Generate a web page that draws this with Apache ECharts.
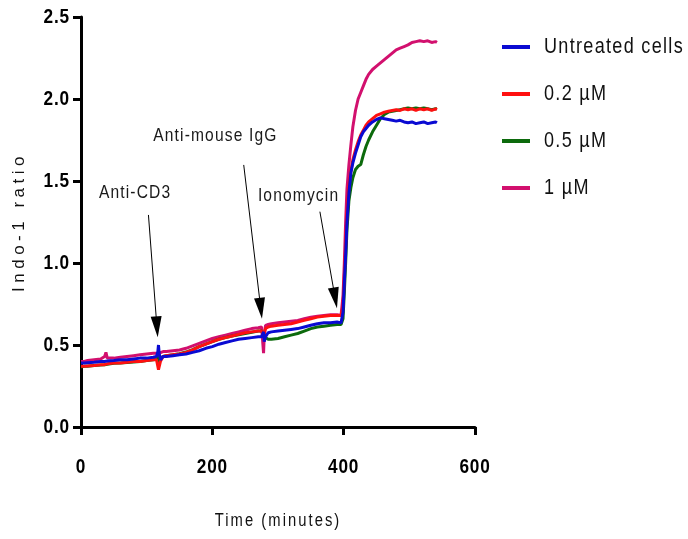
<!DOCTYPE html>
<html>
<head>
<meta charset="utf-8">
<script src="https://cdn.jsdelivr.net/npm/echarts@6/dist/echarts.min.js"></script>
<style>html,body{margin:0;padding:0;background:#fff}#c{width:688px;height:539px}</style>
</head>
<body>
<div id="c"></div>
<script>
// ---- data ----
const time = [
  0,5,10,20,30,36,38,40,50,60,
  70,80,90,100,110,115,117,118,119,121,
  125,130,140,150,160,170,180,190,200,210,
  220,230,240,250,260,270,275,277,278,279,
  281,285,290,300,310,320,330,340,350,360,
  370,380,390,396,398,399,401,403,405,408,
  411,414,418,422,426,430,434,438,444,450,
  456,462,468,474,480,486,492,498,504,510,
  516,522,528,534,540,542
];
const untreated = [
  0.39,0.39,0.392,0.395,0.40,0.40,0.40,0.402,0.405,0.41,
  0.41,0.415,0.42,0.42,0.425,0.43,0.46,0.50,0.45,0.41,
  0.43,0.43,0.435,0.44,0.445,0.455,0.465,0.48,0.49,0.505,
  0.515,0.525,0.535,0.54,0.545,0.55,0.55,0.56,0.58,0.52,
  0.55,0.575,0.58,0.585,0.59,0.595,0.60,0.61,0.62,0.63,
  0.635,0.635,0.64,0.635,0.64,0.70,0.88,1.05,1.25,1.43,
  1.55,1.61,1.67,1.72,1.77,1.80,1.82,1.84,1.86,1.875,
  1.885,1.88,1.875,1.87,1.865,1.87,1.86,1.855,1.86,1.85,
  1.855,1.86,1.85,1.855,1.86,1.855
];
const dose02 = [
  0.37,0.37,0.372,0.375,0.38,0.38,0.38,0.385,0.39,0.39,
  0.395,0.40,0.40,0.405,0.41,0.41,0.40,0.35,0.34,0.40,
  0.43,0.435,0.44,0.445,0.455,0.47,0.49,0.505,0.52,0.535,
  0.545,0.555,0.565,0.575,0.58,0.585,0.585,0.58,0.56,0.57,
  0.60,0.61,0.615,0.62,0.625,0.63,0.64,0.65,0.66,0.67,
  0.675,0.68,0.68,0.68,0.68,0.74,0.92,1.10,1.30,1.47,
  1.56,1.63,1.69,1.74,1.78,1.81,1.84,1.86,1.88,1.90,
  1.91,1.92,1.925,1.93,1.935,1.93,1.94,1.935,1.94,1.93,
  1.94,1.935,1.94,1.93,1.94,1.935
];
const dose05 = [
  0.365,0.37,0.37,0.375,0.378,0.38,0.38,0.383,0.388,0.39,
  0.393,0.397,0.40,0.405,0.41,0.415,0.43,0.38,0.40,0.42,
  0.43,0.435,0.44,0.447,0.457,0.472,0.49,0.505,0.52,0.535,
  0.545,0.555,0.563,0.57,0.578,0.585,0.585,0.58,0.57,0.55,
  0.54,0.535,0.535,0.54,0.55,0.56,0.57,0.585,0.60,0.61,
  0.615,0.62,0.625,0.625,0.63,0.66,0.82,1.00,1.20,1.38,
  1.46,1.52,1.57,1.59,1.60,1.66,1.71,1.75,1.80,1.84,
  1.88,1.905,1.92,1.925,1.93,1.935,1.94,1.945,1.94,1.945,
  1.94,1.945,1.94,1.935,1.94,1.94
];
const dose1 = [
  0.40,0.40,0.405,0.41,0.415,0.43,0.455,0.42,0.42,0.425,
  0.43,0.435,0.44,0.445,0.45,0.45,0.45,0.44,0.45,0.455,
  0.46,0.46,0.465,0.47,0.48,0.495,0.51,0.525,0.54,0.55,
  0.56,0.57,0.58,0.59,0.60,0.605,0.61,0.60,0.45,0.55,
  0.62,0.625,0.63,0.635,0.64,0.645,0.65,0.66,0.67,0.675,
  0.68,0.685,0.685,0.68,0.69,0.80,1.00,1.25,1.45,1.60,
  1.72,1.83,1.93,2.00,2.04,2.08,2.12,2.15,2.18,2.20,
  2.22,2.24,2.26,2.28,2.30,2.31,2.32,2.33,2.345,2.35,
  2.355,2.35,2.355,2.345,2.35,2.345
];
const seriesNames = ['Untreated cells', '0.2 \u00b5M', '0.5 \u00b5M', '1 \u00b5M'];
const xTicks = [0, 200, 400, 600];
const yTicks = [0.0, 0.5, 1.0, 1.5, 2.0, 2.5];
// annotations: label, label position [x, y], arrow start [x, y], arrow head [x, y]
const annLabels = ['Anti-CD3', 'Anti-mouse IgG', 'Ionomycin'];
const annTextPos = [[82.4, 1.427], [204.6, 1.774], [331.3, 1.409]];
const annArrowFrom = [[102.7, 1.293], [247.8, 1.598], [363.8, 1.313]];
const annArrowTo = [[115.6, 0.611], [273.7, 0.724], [387.0, 0.787]];

// ---- condensed + tracked text emulation (the original uses a narrow, letter-spaced face) ----
(function () {
  const P = CanvasRenderingContext2D.prototype;
  const hasLS = ('letterSpacing' in P);
  // keyed by font size in px: horizontal scale, letter spacing
  const map = {
    '22': { sx: 0.82, ls: 1.6 },
    '21': { sx: 0.82, ls: 1.0 },
    '19': { sx: 0.82, ls: 1.4 },
    '18': { sx: 0.82, ls: 2.5 },
    '17': { sx: 1.0, ls: 4.5 }
  };
  const of = P.fillText;
  P.fillText = function (t, x, y, w) {
    const m = /(\d+(?:\.\d+)?)px/.exec(this.font || '');
    const cfg = m && map[m[1]];
    if (!cfg) {
      return (w === undefined) ? of.call(this, t, x, y) : of.call(this, t, x, y, w);
    }
    this.save();
    this.translate(x, y);
    this.scale(cfg.sx, 1);
    if (hasLS) this.letterSpacing = cfg.ls + 'px';
    of.call(this, t, 0, 0);
    this.restore();
  };
})();

const FONT = "'Liberation Sans', Arial, sans-serif";
const colors = { 'Untreated cells': '#0a0ad2', '0.2 \u00b5M': '#ff1010', '0.5 \u00b5M': '#0c6a0c', '1 \u00b5M': '#d2106e' };
const valuesByName = { 'Untreated cells': untreated, '0.2 \u00b5M': dose02, '0.5 \u00b5M': dose05, '1 \u00b5M': dose1 };
const drawOrder = ['1 \u00b5M', '0.5 \u00b5M', '0.2 \u00b5M', 'Untreated cells'];

const pairs = arr => time.map((t, i) => [t, arr[i]]);

const seriesList = drawOrder.map(name => ({
  name: name,
  type: 'line',
  data: pairs(valuesByName[name]),
  showSymbol: false,
  symbol: 'none',
  lineStyle: { width: 3, color: colors[name] },
  itemStyle: { color: colors[name] },
  emphasis: { disabled: true },
  silent: true
}));

// annotations on the top series
const topSeries = seriesList[seriesList.length - 1];
topSeries.markLine = {
  silent: true,
  animation: false,
  label: { show: false },
  lineStyle: { color: '#000', width: 1, type: 'solid' },
  emphasis: { disabled: true },
  data: annLabels.map((l, i) => [
    { coord: annArrowFrom[i], symbol: 'none' },
    { coord: annArrowTo[i], symbol: 'triangle', symbolSize: [11, 21], itemStyle: { color: '#000' } }
  ])
};
topSeries.markPoint = {
  silent: true,
  animation: false,
  symbol: 'circle',
  symbolSize: 1,
  itemStyle: { color: 'rgba(0,0,0,0)' },
  label: { show: true, position: 'inside', formatter: '{b}', color: '#1a1a1a', fontFamily: FONT, fontSize: 19 },
  data: annLabels.map((l, i) => ({ name: l, coord: annTextPos[i] }))
};

const chart = echarts.init(document.getElementById('c'), null, { renderer: 'canvas' });
chart.setOption({
  animation: false,
  backgroundColor: '#fff',
  grid: { left: 81, right: 213, top: 17, bottom: 112, containLabel: false },
  legend: {
    data: seriesNames,
    orient: 'vertical',
    left: 497,
    top: 31,
    itemWidth: 28,
    itemHeight: 4,
    itemGap: 25,
    icon: 'rect',
    selectedMode: false,
    textStyle: { fontFamily: FONT, fontSize: 22, color: '#111', padding: [0, 0, 0, 9] }
  },
  xAxis: {
    type: 'value',
    min: xTicks[0],
    max: xTicks[xTicks.length - 1],
    interval: xTicks[1] - xTicks[0],
    name: 'Time (minutes)',
    nameLocation: 'middle',
    nameGap: 85,
    nameTextStyle: { fontFamily: FONT, fontSize: 18, color: '#111' },
    axisLine: { onZero: false, lineStyle: { color: '#000', width: 3 } },
    axisTick: { show: true, length: 8, lineStyle: { color: '#000', width: 3 } },
    axisLabel: { margin: 30, fontFamily: FONT, fontWeight: 'bold', fontSize: 21, color: '#000' },
    splitLine: { show: false }
  },
  yAxis: {
    type: 'value',
    min: yTicks[0],
    max: yTicks[yTicks.length - 1],
    interval: yTicks[1] - yTicks[0],
    name: 'Indo-1 ratio',
    nameLocation: 'middle',
    nameGap: 53,
    nameTextStyle: { fontFamily: FONT, fontSize: 17, color: '#111' },
    axisLine: { show: true, onZero: false, lineStyle: { color: '#000', width: 3 } },
    axisTick: { show: true, length: 8, lineStyle: { color: '#000', width: 3 } },
    axisLabel: { margin: 11, fontFamily: FONT, fontWeight: 'bold', fontSize: 21, color: '#000',
      formatter: v => v.toFixed(1) },
    splitLine: { show: false }
  },
  series: seriesList
});
</script>
</body>
</html>
